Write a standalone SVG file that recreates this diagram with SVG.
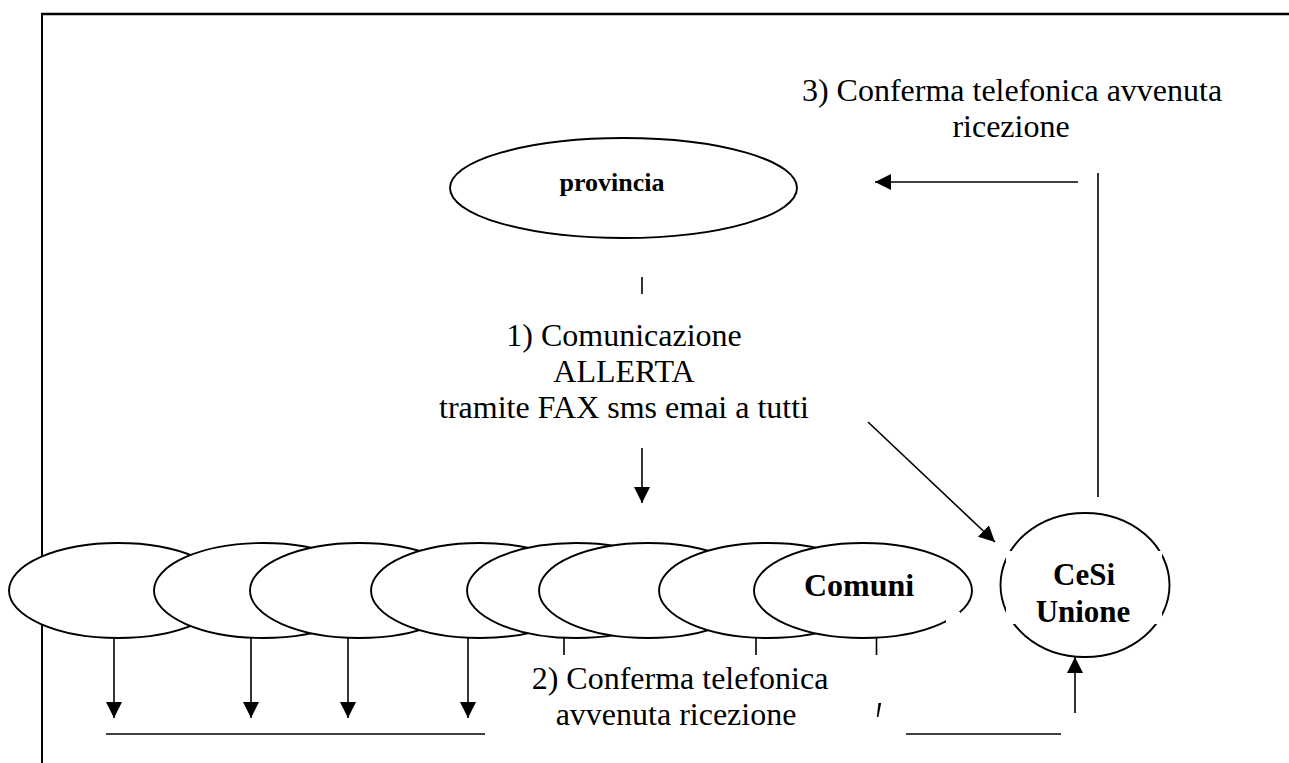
<svg xmlns="http://www.w3.org/2000/svg" width="1289" height="763" viewBox="0 0 1289 763">
  <style>
    .t { font-family: 'Liberation Serif', 'DejaVu Serif', serif; font-size: 32px; fill: #000; }
    .b { font-family: 'Liberation Serif', 'DejaVu Serif', serif; font-weight: bold; fill: #000; }
    .node { fill: #fff; stroke: #000; stroke-width: 1.9; }
    .ln { stroke: #000; stroke-width: 1.6; fill: none; }
    .arr { stroke: #000; stroke-width: 1.6; fill: none; marker-end: url(#ah); }
    .mask { fill: #fff; stroke: none; }
  </style>
  <defs>
    <marker id="ah" markerUnits="userSpaceOnUse" markerWidth="16" markerHeight="16" refX="15" refY="7.5" orient="auto" viewBox="0 0 15 15">
      <path d="M0,0 L15,7.5 L0,15 z" fill="#000"/>
    </marker>
  </defs>
  <rect width="1289" height="763" fill="#fff"/>

  <g id="frame">
    <line x1="41" y1="14" x2="1289" y2="14" stroke="#000" stroke-width="2.4"/>
    <line x1="42" y1="13" x2="42" y2="763" stroke="#000" stroke-width="2"/>
  </g>

  <g id="provincia">
    <ellipse class="node" cx="623.5" cy="188" rx="173.5" ry="50"/>
    <text class="b" x="612" y="191" font-size="26" text-anchor="middle">provincia</text>
  </g>

  <g id="comuni">
    <ellipse class="node" cx="118" cy="590.5" rx="109" ry="47.5"/>
    <ellipse class="node" cx="263" cy="590.5" rx="109" ry="47.5"/>
    <ellipse class="node" cx="359" cy="590.5" rx="109" ry="47.5"/>
    <ellipse class="node" cx="480" cy="590.5" rx="109" ry="47.5"/>
    <ellipse class="node" cx="576" cy="590.5" rx="109" ry="47.5"/>
    <ellipse class="node" cx="648" cy="590.5" rx="109" ry="47.5"/>
    <ellipse class="node" cx="768" cy="590.5" rx="109" ry="47.5"/>
    <ellipse class="node" cx="863" cy="590.5" rx="109" ry="47.5"/>
    <rect class="mask" x="946" y="612" width="14" height="12"/>
    <text class="b" x="859" y="596" font-size="32" text-anchor="middle">Comuni</text>
  </g>

  <g id="cesi-unione">
    <ellipse class="node" cx="1085" cy="585" rx="84.5" ry="72"/>
    <rect class="mask" x="1006" y="551" width="156" height="73"/>
    <text class="b" x="1084" y="585" font-size="31" text-anchor="middle">CeSi</text>
    <text class="b" x="1083" y="622" font-size="31" text-anchor="middle">Unione</text>
  </g>

  <g id="connectors">
    <line class="ln" x1="642" y1="277" x2="642" y2="294"/>
    <line class="arr" x1="642" y1="448" x2="642" y2="503"/>
    <line class="arr" x1="868" y1="422" x2="995" y2="542"/>
    <line class="arr" x1="114" y1="638" x2="114" y2="718"/>
    <line class="arr" x1="251" y1="638" x2="251" y2="718"/>
    <line class="arr" x1="348" y1="638" x2="348" y2="718"/>
    <line class="arr" x1="468" y1="638" x2="468" y2="718"/>
    <line class="ln" x1="564" y1="638" x2="564" y2="655"/>
    <line class="ln" x1="756" y1="638" x2="756" y2="655"/>
    <line class="ln" x1="876.5" y1="638" x2="876.5" y2="655"/>
    <polygon points="878.5,703 881.2,703 878.4,717 876.8,717" fill="#000"/>
    <line class="ln" x1="106" y1="734" x2="485" y2="734"/>
    <line class="ln" x1="906" y1="734" x2="1061" y2="734"/>
    <line class="arr" x1="1075" y1="713" x2="1075" y2="657"/>
    <line class="ln" x1="1098" y1="173" x2="1098" y2="497"/>
    <line class="arr" x1="1078" y1="182" x2="875" y2="182"/>
  </g>

  <g id="labels">
    <text class="t" x="1012" y="101" text-anchor="middle">3) Conferma telefonica avvenuta</text>
    <text class="t" x="1011" y="137" text-anchor="middle">ricezione</text>
    <text class="t" x="624" y="346" text-anchor="middle">1) Comunicazione</text>
    <text class="t" x="624" y="382" text-anchor="middle">ALLERTA</text>
    <text class="t" x="624" y="418" text-anchor="middle">tramite FAX sms emai a tutti</text>
    <text class="t" x="680" y="689" text-anchor="middle">2) Conferma telefonica</text>
    <text class="t" x="676" y="725" text-anchor="middle">avvenuta ricezione</text>
  </g>
</svg>
